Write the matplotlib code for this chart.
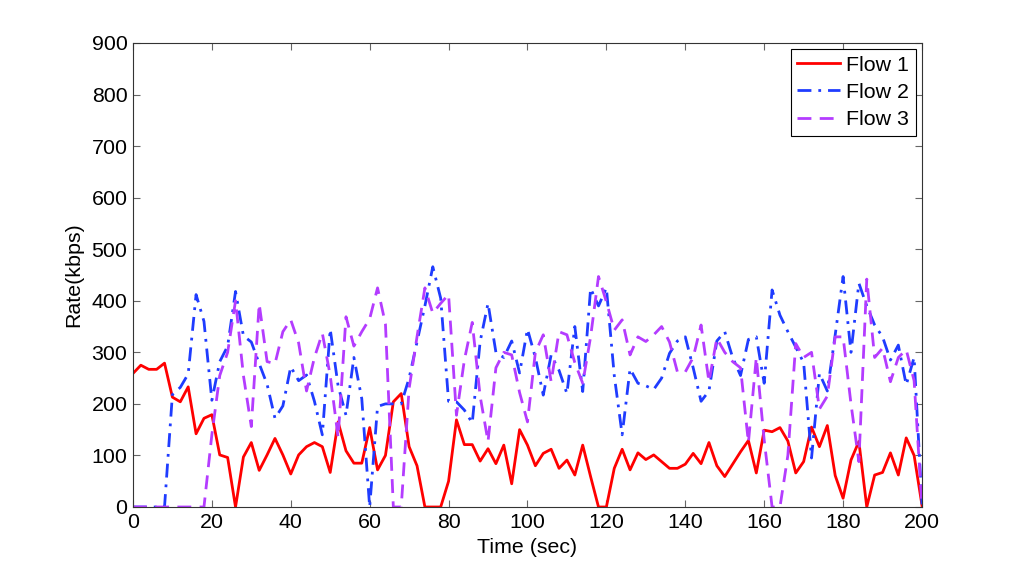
import numpy as np
import matplotlib
matplotlib.use('Agg')
import matplotlib.pyplot as plt

plt.rcParams['font.family'] = ['Liberation Sans', 'DejaVu Sans']

# sample times (sec), every 2 s
t = np.arange(0, 201, 2)

# Flow 1 rate (kbps)
flow1 = [259, 275, 267, 267, 279, 213, 204, 233, 142, 172,
         179, 101, 96, 0, 97, 125, 71, 101, 133, 101,
         64, 101, 117, 125, 117, 67, 165, 109, 85, 85,
         154, 72, 100, 204, 220, 117, 80, 0, 0, 0,
         50, 169, 121, 121, 89, 113, 84, 120, 45, 150,
         120, 80, 104, 112, 75, 91, 62, 120, 59, 0,
         0, 75, 112, 72, 105, 92, 101, 88, 75, 75,
         83, 104, 84, 125, 80, 59, 83, 107, 129, 66,
         149, 146, 154, 128, 66, 88, 155, 117, 158, 61,
         17, 91, 127, 0, 62, 67, 105, 62, 134, 100,
         3]

# Flow 2 rate (kbps)
flow2 = [0, 0, 0, 0, 0, 218, 232, 258, 412, 360,
         207, 282, 312, 418, 332, 320, 278, 238, 172, 196,
         272, 245, 256, 205, 140, 345, 235, 178, 290, 210,
         0, 195, 200, 200, 200, 250, 320, 390, 466, 405,
         205, 204, 188, 163, 321, 395, 300, 290, 322, 260,
         345, 290, 217, 295, 265, 220, 350, 224, 424, 390,
         425, 255, 140, 268, 240, 235, 228, 250, 298, 322,
         330, 270, 205, 225, 322, 340, 290, 255, 325, 330,
         240, 421, 372, 340, 310, 280, 95, 259, 225, 334,
         447, 300, 434, 390, 353, 330, 285, 314, 237, 290,
         5]

# Flow 3 rate (kbps)
flow3 = [0, 0, 0, 0, 0, 0, 0, 0, 0, 0,
         140, 255, 300, 400, 255, 156, 394, 282, 278, 340,
         363, 318, 225, 290, 337, 255, 135, 369, 312, 340,
         365, 425, 355, 0, 0, 230, 330, 425, 376, 395,
         412, 178, 285, 358, 215, 127, 270, 300, 295, 222,
         165, 300, 334, 243, 340, 334, 280, 240, 330, 447,
         398, 343, 363, 295, 330, 321, 334, 350, 320, 262,
         262, 290, 353, 243, 327, 300, 282, 270, 125, 290,
         130, 0, 0, 100, 317, 290, 300, 190, 215, 330,
         330, 200, 88, 442, 290, 308, 243, 290, 305, 245,
         0]

fs = 15.4

fig = plt.figure(figsize=(10.18, 5.71), dpi=100)
ax = fig.add_axes([0.1306, 0.1121, 0.7751, 0.8126])

ax.plot(t, flow1, color='#ff0000', lw=2.0, label='Flow 1')
ax.plot(t, flow2, color='#1f3cff', lw=2.0, ls=(0, (5, 2.5, 1, 2.5)), label='Flow 2')
ax.plot(t, flow3, color='#b43cff', lw=2.0, ls=(0, (5, 3)), label='Flow 3')

ax.set_xlim(0, 200)
ax.set_ylim(0, 900)
ax.set_xticks(np.arange(0, 201, 20))
ax.set_yticks(np.arange(0, 901, 100))
ax.tick_params(direction='in', top=True, right=True, labelsize=fs, length=5,
               color='#666666')
ax.tick_params(axis='y', pad=4)
ax.tick_params(axis='x', pad=4)
for s in ax.spines.values():
    s.set_color('#333333')
    s.set_linewidth(0.8)

ax.set_xlabel('Time (sec)', fontsize=fs, labelpad=5)
ax.set_ylabel('Rate(kbps)', fontsize=fs, labelpad=6)

leg = ax.legend(loc='upper right', fontsize=fs, fancybox=False, framealpha=1,
                edgecolor='black', handlelength=2.0, borderaxespad=0.3,
                labelspacing=0.38, handletextpad=0.3, borderpad=0.3)
leg.get_frame().set_linewidth(0.8)

fig.savefig('out.png', dpi=100)
